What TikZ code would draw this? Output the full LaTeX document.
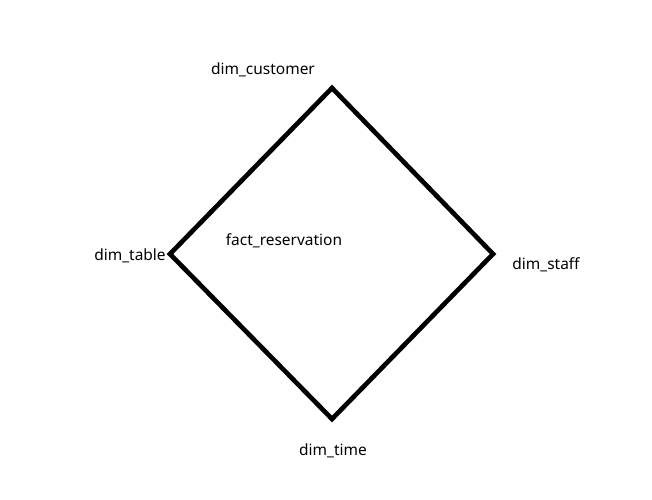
\documentclass[tikz,border=0pt]{standalone}
\usepackage{fontspec}
\setmainfont{Noto Sans}
\begin{document}
\begin{tikzpicture}[x=0.75pt,y=-0.75pt,
  lbl/.style={font=\fontsize{11.6}{14}\selectfont, inner sep=0pt, anchor=center},
  edge/.style={line width=3.5pt, black, line join=miter}]
\useasboundingbox (0,0) rectangle (652,499);
\coordinate (T) at (332,88);
\coordinate (L) at (170,254);
\coordinate (R) at (493,254);
\coordinate (B) at (332,419);
\draw[edge] (T) -- (R) -- (B) -- (L) -- cycle;
\node[lbl] (cust) at (263,70) {dim\_customer};
\node[lbl] (tab) at (130,256) {dim\_table};
\node[lbl] (fact) at (284,241) {fact\_reservation};
\node[lbl] (staff) at (546,265) {dim\_staff};
\node[lbl] (time) at (333,451) {dim\_time};
\end{tikzpicture}
\end{document}
